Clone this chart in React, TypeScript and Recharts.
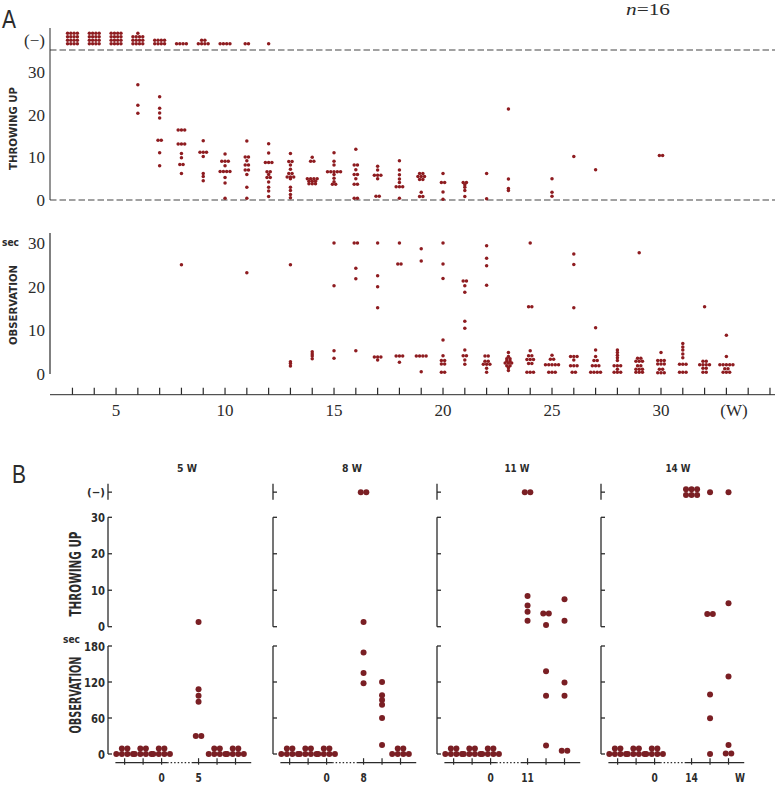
import React from "react";
import { ScatterChart, Scatter, XAxis, YAxis, ReferenceLine } from "recharts";

// ---------- Panel A: all 16 animals, weekly test ----------
const noneWeeks = [3, 4, 5, 6, 7, 8, 9, 10, 11, 12];
const noneCounts = [16, 16, 16, 13, 8, 4, 6, 4, 2, 1];

const throwWeeks = [6, 7, 8, 9, 10, 11, 12, 13, 14, 15, 16, 17, 18, 19, 20, 21, 22, 23, 25, 26, 27, 30];
const throwValues = [
  [27, 22.2, 20.3],
  [24.2, 21.5, 20.4, 19.2, 14, 14, 11.1, 8],
  [16.4, 16.4, 16.4, 13.1, 13.1, 13.1, 10.9, 9.9, 8.3, 8.3, 6.2],
  [13.9, 11.2, 11.2, 11.2, 10.2, 6.2, 5.5, 4.5],
  [10.8, 9.1, 9.1, 9.1, 8.0, 6.7, 6.7, 6.7, 6.7, 5.3, 4.0, 0.4],
  [13.8, 10.1, 10.1, 9.2, 8.2, 8.2, 7.0, 7.0, 6.0, 3.0, 0.4],
  [13.2, 11.0, 8.8, 8.8, 8.8, 6.6, 6.6, 6.0, 5.3, 5.3, 4.2, 3.0, 2.1, 0.8],
  [10.9, 9.0, 9.0, 8.2, 7.2, 6.2, 6.2, 5.4, 5.4, 5.4, 5.0, 3.0, 2.2, 1.3, 0.5],
  [10.0, 9.1, 9.1, 5.0, 5.0, 5.0, 5.0, 4.4, 4.4, 4.4, 3.8, 3.8, 3.8],
  [11.1, 9.1, 8.2, 6.6, 6.6, 6.6, 6.6, 6.6, 6.0, 5.1, 4.3, 3.7, 3.7],
  [11.9, 8.2, 8.2, 7.1, 6.0, 6.0, 5.0, 3.7, 3.7, 0.4, 0.4],
  [7.9, 7.0, 5.8, 5.8, 5.8, 5.0, 0.9, 0.9],
  [9.2, 7.0, 5.9, 4.9, 4.1, 3.1, 3.1, 3.1, 0.4],
  [6.2, 6.2, 5.5, 5.5, 5.5, 4.8, 4.8, 1.8, 0.8, 0.8],
  [6.2, 4.1, 4.1, 1.9, 0.2],
  [4.1, 4.1, 3.6, 3.0, 2.2, 0.8],
  [6.2, 0.3],
  [21.3, 4.9, 2.7, 2.2],
  [5.0, 1.8, 0.9],
  [10.2],
  [7.1],
  [10.4, 10.4],
];

const obsWeeks = [8, 11, 13, 14, 15, 16, 17, 18, 19, 20, 21, 22, 23, 24, 25, 26, 27, 28, 29, 30, 31, 32, 33];
const obsValues = [
  [25.0],
  [23.2],
  [25.0, 2.8, 2.4, 1.8],
  [5.1, 4.6, 4.1, 3.5],
  [30, 20.2, 5.3, 3.6],
  [30, 30, 24.2, 21.8, 5.3],
  [30, 22.5, 20.0, 15.2, 3.9, 3.9, 3.9, 3.2],
  [30, 25.2, 25.2, 4.1, 4.1, 4.1, 2.7],
  [28.7, 25.9, 4.1, 4.1, 4.1, 4.1, 0.5],
  [30, 25.2, 21.9, 7.8, 4.2, 3.1, 3.1, 2.3, 2.3, 0.4, 0.4],
  [21.3, 21.3, 20.2, 18.7, 12.1, 10.5, 5.5, 4.2, 4.2, 3.2, 2.2],
  [29.4, 26.5, 24.8, 20.3, 4.1, 4.1, 2.9, 2.9, 2.2, 2.2, 2.2, 1.3, 0.4],
  [4.9, 4.0, 3.5, 3.5, 3.0, 3.0, 2.5, 2.5, 2.5, 1.9, 1.9, 1.4, 0.8],
  [30, 15.4, 15.4, 5.3, 4.2, 4.2, 3.3, 3.3, 3.3, 2.4, 2.4, 0.4, 0.4, 0.4],
  [4.3, 3.4, 3.4, 2.1, 2.1, 2.1, 2.1, 2.1, 0.4, 0.4, 0.4],
  [27.5, 25.1, 15.2, 4.0, 4.0, 4.0, 3.2, 1.9, 1.9, 1.9, 0.4, 0.4],
  [10.6, 5.5, 4.0, 3.1, 3.1, 1.9, 1.9, 1.9, 0.4, 0.4, 0.4, 0.4],
  [5.5, 4.9, 4.3, 3.7, 3.1, 1.9, 1.9, 1.9, 1.1, 0.4, 0.4, 0.4],
  [27.8, 3.6, 3.6, 2.9, 2.9, 2.9, 1.9, 1.9, 1.1, 1.1, 1.1, 0.4, 0.4, 0.4],
  [4.9, 3.1, 3.1, 3.1, 2.3, 2.3, 2.3, 1.1, 1.1, 0.3, 0.3, 0.3],
  [7.0, 6.2, 5.5, 4.6, 3.7, 2.2, 2.2, 2.2, 0.4, 0.4, 0.4],
  [15.4, 2.9, 2.9, 2.1, 2.1, 2.1, 2.1, 1.3, 1.3, 0.4, 0.4],
  [8.9, 4.0, 2.1, 2.1, 2.1, 2.1, 2.1, 1.2, 1.2, 0.4, 0.4, 0.4],
];

const weekTicks = [3, 4, 5, 6, 7, 8, 9, 10, 11, 12, 13, 14, 15, 16, 17, 18, 19, 20, 21, 22, 23, 24, 25, 26, 27, 28, 29, 30, 31, 32, 33, 34, 35];
const weekLabels = [5, 10, 15, 20, 25, 30];

// ---------- Panel B: groups of 6, three baseline sessions then three after ----------
const bWeeks = ["5", "8", "11", "14"];
const bPositions = [0, 1, 2, 4, 5, 6];
const bNone = [
  [0, 0, 0, 0, 0, 0],
  [0, 0, 0, 2, 0, 0],
  [0, 0, 0, 2, 0, 0],
  [0, 0, 0, 6, 1, 1],
];
const bThrow = [
  [[], [], [], [1.3], [], []],
  [[], [], [], [1.3], [], []],
  [[], [], [], [8.4, 5.8, 4.1, 1.6], [3.6, 3.6, 0.5], [7.5, 1.6]],
  [[], [], [], [], [3.5, 3.5], [6.4]],
];
const zeros6 = [0, 0, 0, 0, 0, 0];
const bObs = [
  [zeros6, zeros6, zeros6, [108, 97, 87, 30, 30], zeros6, zeros6],
  [zeros6, zeros6, zeros6, [169, 135, 118], [120, 98, 90, 82, 60, 15], zeros6],
  [zeros6, zeros6, zeros6, [], [138, 97, 14], [119, 97, 5.5, 5.5]],
  [zeros6, zeros6, zeros6, [], [99, 59.5, 0], [129, 15, 1, 1]],
];

// ---------- styling ----------
const RED_A = "#8e1c20";
const RED_B = "#7a1f24";
const INK = "#2b2b2b";
const SERIF = "'Liberation Serif', 'DejaVu Serif', serif";
const SANS = "'DejaVu Sans', sans-serif";

const NONE_A = 36.6; // row of "(-)" dots in panel A
const NONE_B = 36.9;
const A_DOMAIN: [number, number] = [1.97, 35.23];
const B_DOMAIN: [number, number] = [-0.9, 7.0];
const B_AXIS_X = [107.5, 272.5, 436.7, 600.7];

type Pt = { x: number; y: number };

// spread identical values sideways (dot-plot style), wrapping into rows
function dodge(x: number, values: number[], colStep: number, rowStep: number, cap: number, centerRows = false): Pt[] {
  const counts = new Map<number, number>();
  values.forEach((v) => counts.set(v, (counts.get(v) || 0) + 1));
  const out: Pt[] = [];
  counts.forEach((n, v) => {
    const rows = Math.ceil(n / cap);
    for (let i = 0; i < n; i++) {
      const r = Math.floor(i / cap);
      const inRow = Math.min(cap, n - r * cap);
      const c = i % cap;
      out.push({
        x: x + (c - (inRow - 1) / 2) * colStep,
        y: v + (centerRows ? r - (rows - 1) / 2 : r) * rowStep,
      });
    }
  });
  return out;
}

const dotA = (p: any) => <circle cx={p.cx} cy={p.cy} r={1.75} fill={RED_A} />;
const dotB = (p: any) => <circle cx={p.cx} cy={p.cy} r={3} fill={RED_B} />;

const serifYTick = (p: any) => {
  const v = p.payload.value;
  return (
    <text x={p.x - 5} y={p.y + 6} textAnchor="end" fontFamily={SERIF} fontSize={17} fill={INK}>
      {v === 37.5 ? "(−)" : String(v)}
    </text>
  );
};

const weekTick = (p: any) => {
  const v = p.payload.value;
  return (
    <g>
      <line x1={p.x} x2={p.x} y1={p.y} y2={p.y - 7} stroke={INK} strokeWidth={1.2} />
      {weekLabels.includes(v) && (
        <text x={p.x} y={p.y + 21} textAnchor="middle" fontFamily={SERIF} fontSize={17} fill={INK}>
          {String(v)}
        </text>
      )}
    </g>
  );
};

const makeBracketTick = (showLabels: boolean) => (p: any) => {
  const v = p.payload.value;
  const isNone = v === NONE_B;
  const s = isNone ? "(−)" : String(v);
  return (
    <g>
      <line x1={p.x} x2={p.x + 4} y1={p.y} y2={p.y} stroke={INK} strokeWidth={1.3} />
      {showLabels && (
        <text
          x={p.x - 3}
          y={p.y + (isNone ? 4 : 4.7)}
          textAnchor="end"
          fontFamily={SANS}
          fontWeight="bold"
          fontSize={isNone ? 11 : 13}
          textLength={isNone ? 18 : s.length * 7}
          lengthAdjust="spacingAndGlyphs"
          fill={INK}
        >
          {s}
        </text>
      )}
    </g>
  );
};

const makeBXTick = (week: string) => (p: any) => {
  const v = p.payload.value;
  const s = v === 2 ? "0" : v === 4 ? week : "";
  return (
    <g>
      <line x1={p.x} x2={p.x} y1={p.y - 4.5} y2={p.y + 2} stroke={INK} strokeWidth={1.2} />
      {s && (
        <text
          x={p.x}
          y={p.y + 19}
          textAnchor="middle"
          fontFamily={SANS}
          fontWeight="bold"
          fontSize={12.5}
          textLength={s.length * 6.3}
          lengthAdjust="spacingAndGlyphs"
          fill={INK}
        >
          {s}
        </text>
      )}
    </g>
  );
};

function PanelA() {
  const noneA = noneWeeks.flatMap((w, i) => dodge(w, Array(noneCounts[i]).fill(NONE_A), 0.15, 0.82, 4));
  const throwA = throwWeeks.flatMap((w, i) => dodge(w, throwValues[i], 0.15, 0, 99));
  const obsA = obsWeeks.flatMap((w, i) => dodge(w, obsValues[i], 0.15, 0, 99));
  return (
    <>
      <div style={{ position: "absolute", left: 0, top: 0 }}>
        <ScatterChart width={775} height={215} margin={{ top: 28, right: 0, bottom: 15, left: 0 }}>
          <XAxis type="number" dataKey="x" domain={A_DOMAIN} hide />
          <YAxis
            type="number"
            dataKey="y"
            domain={[0, 40.3]}
            ticks={[0, 10, 20, 30, 37.5]}
            interval={0}
            width={50}
            stroke={INK}
            tickLine={false}
            tickSize={0}
            tickMargin={0}
            tick={serifYTick}
          />
          <ReferenceLine y={0} stroke="#444" strokeWidth={1.2} strokeDasharray="6.5 3" />
          <ReferenceLine y={35.15} stroke="#444" strokeWidth={1.2} strokeDasharray="6.5 3" />
          <Scatter data={noneA} shape={dotA} isAnimationActive={false} />
          <Scatter data={throwA} shape={dotA} isAnimationActive={false} />
        </ScatterChart>
      </div>
      <div style={{ position: "absolute", left: 0, top: 215 }}>
        <ScatterChart width={775} height={215} margin={{ top: 18, right: 0, bottom: 5.3, left: 0 }}>
          <XAxis
            type="number"
            dataKey="x"
            domain={A_DOMAIN}
            ticks={weekTicks}
            interval={0}
            height={30}
            stroke={INK}
            tickSize={0}
            tickMargin={0}
            tick={weekTick}
          />
          <YAxis
            type="number"
            dataKey="y"
            domain={[-4.75, 32.3]}
            ticks={[0, 10, 20, 30]}
            interval={0}
            width={50}
            axisLine={false}
            tickLine={false}
            tickSize={0}
            tickMargin={0}
            tick={serifYTick}
          />
          <ReferenceLine
            segment={[
              { x: A_DOMAIN[0], y: 0 },
              { x: A_DOMAIN[0], y: 32.3 },
            ]}
            stroke={INK}
            strokeWidth={1.2}
          />
          <Scatter data={obsA} shape={dotA} isAnimationActive={false} />
        </ScatterChart>
      </div>
    </>
  );
}

function PanelBGroup({ i }: { i: number }) {
  const noneB = bPositions.flatMap((p, j) => dodge(p, Array(bNone[i][j]).fill(NONE_B), 0.3, 1.6, 3, true));
  const throwB = bPositions.flatMap((p, j) => dodge(p, bThrow[i][j], 0.3, 0, 99));
  const obsB = bPositions.flatMap((p, j) => dodge(p, bObs[i][j], 0.3, 9.2, 4));
  const left = B_AXIS_X[i] - 40;
  const first = i === 0;
  const xm = B_DOMAIN[0];
  return (
    <>
      <div style={{ position: "absolute", left, top: 470 }}>
        <ScatterChart width={196} height={168} margin={{ top: 12.3, right: 10, bottom: 11.3, left: 0 }}>
          <XAxis type="number" dataKey="x" domain={B_DOMAIN} hide />
          <YAxis
            type="number"
            dataKey="y"
            domain={[0, 39.6]}
            ticks={[0, 10, 20, 30, NONE_B]}
            interval={0}
            width={40}
            axisLine={false}
            tickLine={false}
            tickSize={0}
            tickMargin={0}
            tick={makeBracketTick(first)}
          />
          <ReferenceLine segment={[{ x: xm, y: 0 }, { x: xm, y: 30 }]} stroke={INK} strokeWidth={1.3} />
          <ReferenceLine segment={[{ x: xm, y: 34.8 }, { x: xm, y: 39.2 }]} stroke={INK} strokeWidth={1.3} />
          <Scatter data={noneB} shape={dotB} isAnimationActive={false} />
          <Scatter data={throwB} shape={dotB} isAnimationActive={false} />
        </ScatterChart>
      </div>
      <div style={{ position: "absolute", left, top: 635 }}>
        <ScatterChart width={196} height={150} margin={{ top: 9.8, right: 10, bottom: 0, left: 0 }}>
          <XAxis
            type="number"
            dataKey="x"
            domain={B_DOMAIN}
            ticks={bPositions}
            interval={0}
            height={22.3}
            axisLine={false}
            tickLine={false}
            tickSize={0}
            tickMargin={0}
            tick={makeBXTick(bWeeks[i])}
          />
          <YAxis
            type="number"
            dataKey="y"
            domain={[-14.5, 182]}
            ticks={[0, 60, 120, 180]}
            interval={0}
            width={40}
            axisLine={false}
            tickLine={false}
            tickSize={0}
            tickMargin={0}
            tick={makeBracketTick(first)}
          />
          <ReferenceLine segment={[{ x: xm, y: 0 }, { x: xm, y: 180 }]} stroke={INK} strokeWidth={1.3} />
          <ReferenceLine segment={[{ x: -0.5, y: -14.5 }, { x: 2.3, y: -14.5 }]} stroke={INK} strokeWidth={1.2} />
          <ReferenceLine
            segment={[{ x: 2.3, y: -14.5 }, { x: 3.7, y: -14.5 }]}
            stroke={INK}
            strokeWidth={1.2}
            strokeDasharray="1.5 2"
          />
          <ReferenceLine segment={[{ x: 3.7, y: -14.5 }, { x: 6.85, y: -14.5 }]} stroke={INK} strokeWidth={1.2} />
          <Scatter data={obsB} shape={dotB} isAnimationActive={false} />
        </ScatterChart>
      </div>
    </>
  );
}

const titleX = [187, 352, 517, 678];

export default function App() {
  const cond = { fontFamily: SANS, fontWeight: "bold" as const, fill: INK, lengthAdjust: "spacingAndGlyphs" };
  return (
    <div
      style={{
        position: "absolute",
        left: 0,
        top: 0,
        width: 775,
        height: 785,
        overflow: "hidden",
        background: "#fff",
      }}
    >
      <PanelA />
      {bWeeks.map((_, i) => (
        <PanelBGroup key={i} i={i} />
      ))}
      <svg width={775} height={785} style={{ position: "absolute", left: 0, top: 0, pointerEvents: "none" }}>
        <text x={2} y={28} fontFamily="'Liberation Sans', sans-serif" fontSize={25} textLength={14} lengthAdjust="spacingAndGlyphs" fill={INK}>
          A
        </text>
        <text x={626} y={15} fontFamily={SERIF} fontSize={17} textLength={44} lengthAdjust="spacingAndGlyphs" fill={INK}>
          <tspan fontStyle="italic">n</tspan>=16
        </text>
        <text transform="translate(17,128.5) rotate(-90)" textAnchor="middle" fontSize={10} textLength={83} {...cond}>
          THROWING UP
        </text>
        <text transform="translate(17,305) rotate(-90)" textAnchor="middle" fontSize={10} textLength={80} {...cond}>
          OBSERVATION
        </text>
        <text x={2} y={246} fontSize={11} textLength={17} {...cond}>
          sec
        </text>
        <text x={734} y={416} textAnchor="middle" fontFamily={SERIF} fontSize={17} fill={INK}>
          (W)
        </text>

        <text x={12} y={483} fontFamily="'Liberation Sans', sans-serif" fontSize={26} textLength={14} lengthAdjust="spacingAndGlyphs" fill={INK}>
          B
        </text>
        {bWeeks.map((w, i) => (
          <text key={w} x={titleX[i]} y={472} textAnchor="middle" fontSize={11} textLength={w.length > 1 ? 25 : 20} {...cond}>
            {`${w} W`}
          </text>
        ))}
        <text transform="translate(80.5,574) rotate(-90)" textAnchor="middle" fontSize={15} textLength={85} {...cond}>
          THROWING UP
        </text>
        <text transform="translate(80.5,695) rotate(-90)" textAnchor="middle" fontSize={15} textLength={77} {...cond}>
          OBSERVATION
        </text>
        <text x={63} y={643} fontSize={11} textLength={17} {...cond}>
          sec
        </text>
        <text x={740} y={781.6} textAnchor="middle" fontSize={12.5} textLength={10} {...cond}>
          W
        </text>
      </svg>
    </div>
  );
}
